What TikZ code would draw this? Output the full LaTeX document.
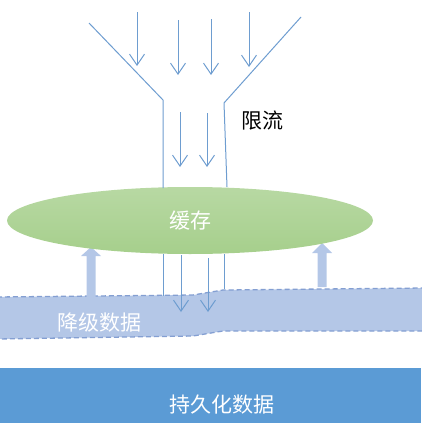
\documentclass[tikz,border=0pt]{standalone}
\usepackage{fontspec}
\newfontfamily\cjk{Noto Sans CJK SC}
\usetikzlibrary{shapes.geometric,arrows.meta}
\definecolor{flowblue}{HTML}{6E9DD0}
\definecolor{cachegreen}{HTML}{A6CF8C}
\definecolor{bandfill}{HTML}{B4C7E7}
\definecolor{bandline}{HTML}{849FD2}
\definecolor{storeblue}{HTML}{5B9BD5}

\begin{document}
\begin{tikzpicture}[x=1pt,y=-1pt]
  \useasboundingbox (0,0) rectangle (421,423);
  \tikzset{flow/.style={draw=flowblue,line width=1pt},
           flowarrow/.style={flow,-{Straight Barb[length=11pt,width=15pt]}},
           label/.style={font=\cjk\fontsize{21}{21}\selectfont,inner sep=0pt},
           uparrow/.style={fill=bandfill}}

 % persistent storage
  \fill[storeblue] (0,368) rectangle (421,423);
  \node[label,text=white] (store) at (222,405) {持久化数据};

 % degraded data band
  \path[fill=bandfill,draw=bandline,line width=1.3pt,dash pattern=on 5pt off 3pt]
    (-3,297) -- (193,295) -- (223,290) -- (424,288)
    -- (424,331) -- (223,331) -- (193,336) -- (-3,339) -- cycle;
  \node[label,text=white] (degrade) at (99,323) {降级数据};

 % refill arrows from band to cache
  \fill[uparrow] (86.5,297) -- (86.5,256) -- (81,256) -- (91,247) -- (101,256)
    -- (95.5,256) -- (95.5,297) -- cycle;
  \fill[uparrow] (317.5,287) -- (317.5,253) -- (312,253) -- (322,243) -- (332,253)
    -- (326.5,253) -- (326.5,287) -- cycle;

 % cache
  \node[ellipse,minimum width=366pt,minimum height=67pt,inner sep=0pt,
        top color=cachegreen!80!white,bottom color=cachegreen] (cache) at (190,220.5) {};
  \node[label,text=white] (cachetext) at (cache.center) {缓存};

 % funnel walls
  \draw[flow] (89,23) -- (163,100) -- (163,188);
  \draw[flow] (301,17) -- (224,103) -- (227,187);
  \draw[flow] (163,254) -- (163,296);
  \draw[flow] (224,254) -- (224,289);

 % request arrows
  \foreach \x/\a/\b in {137/12/66, 178/20/75, 211/19/75, 249/12/67,
                        180/112/167, 207/113/167, 181/255/312, 208/258/312}
    \draw[flowarrow] (\x,\a) -- (\x,\b);

  \node[label,text=black] (limit) at (262,121) {限流};
\end{tikzpicture}
\end{document}
